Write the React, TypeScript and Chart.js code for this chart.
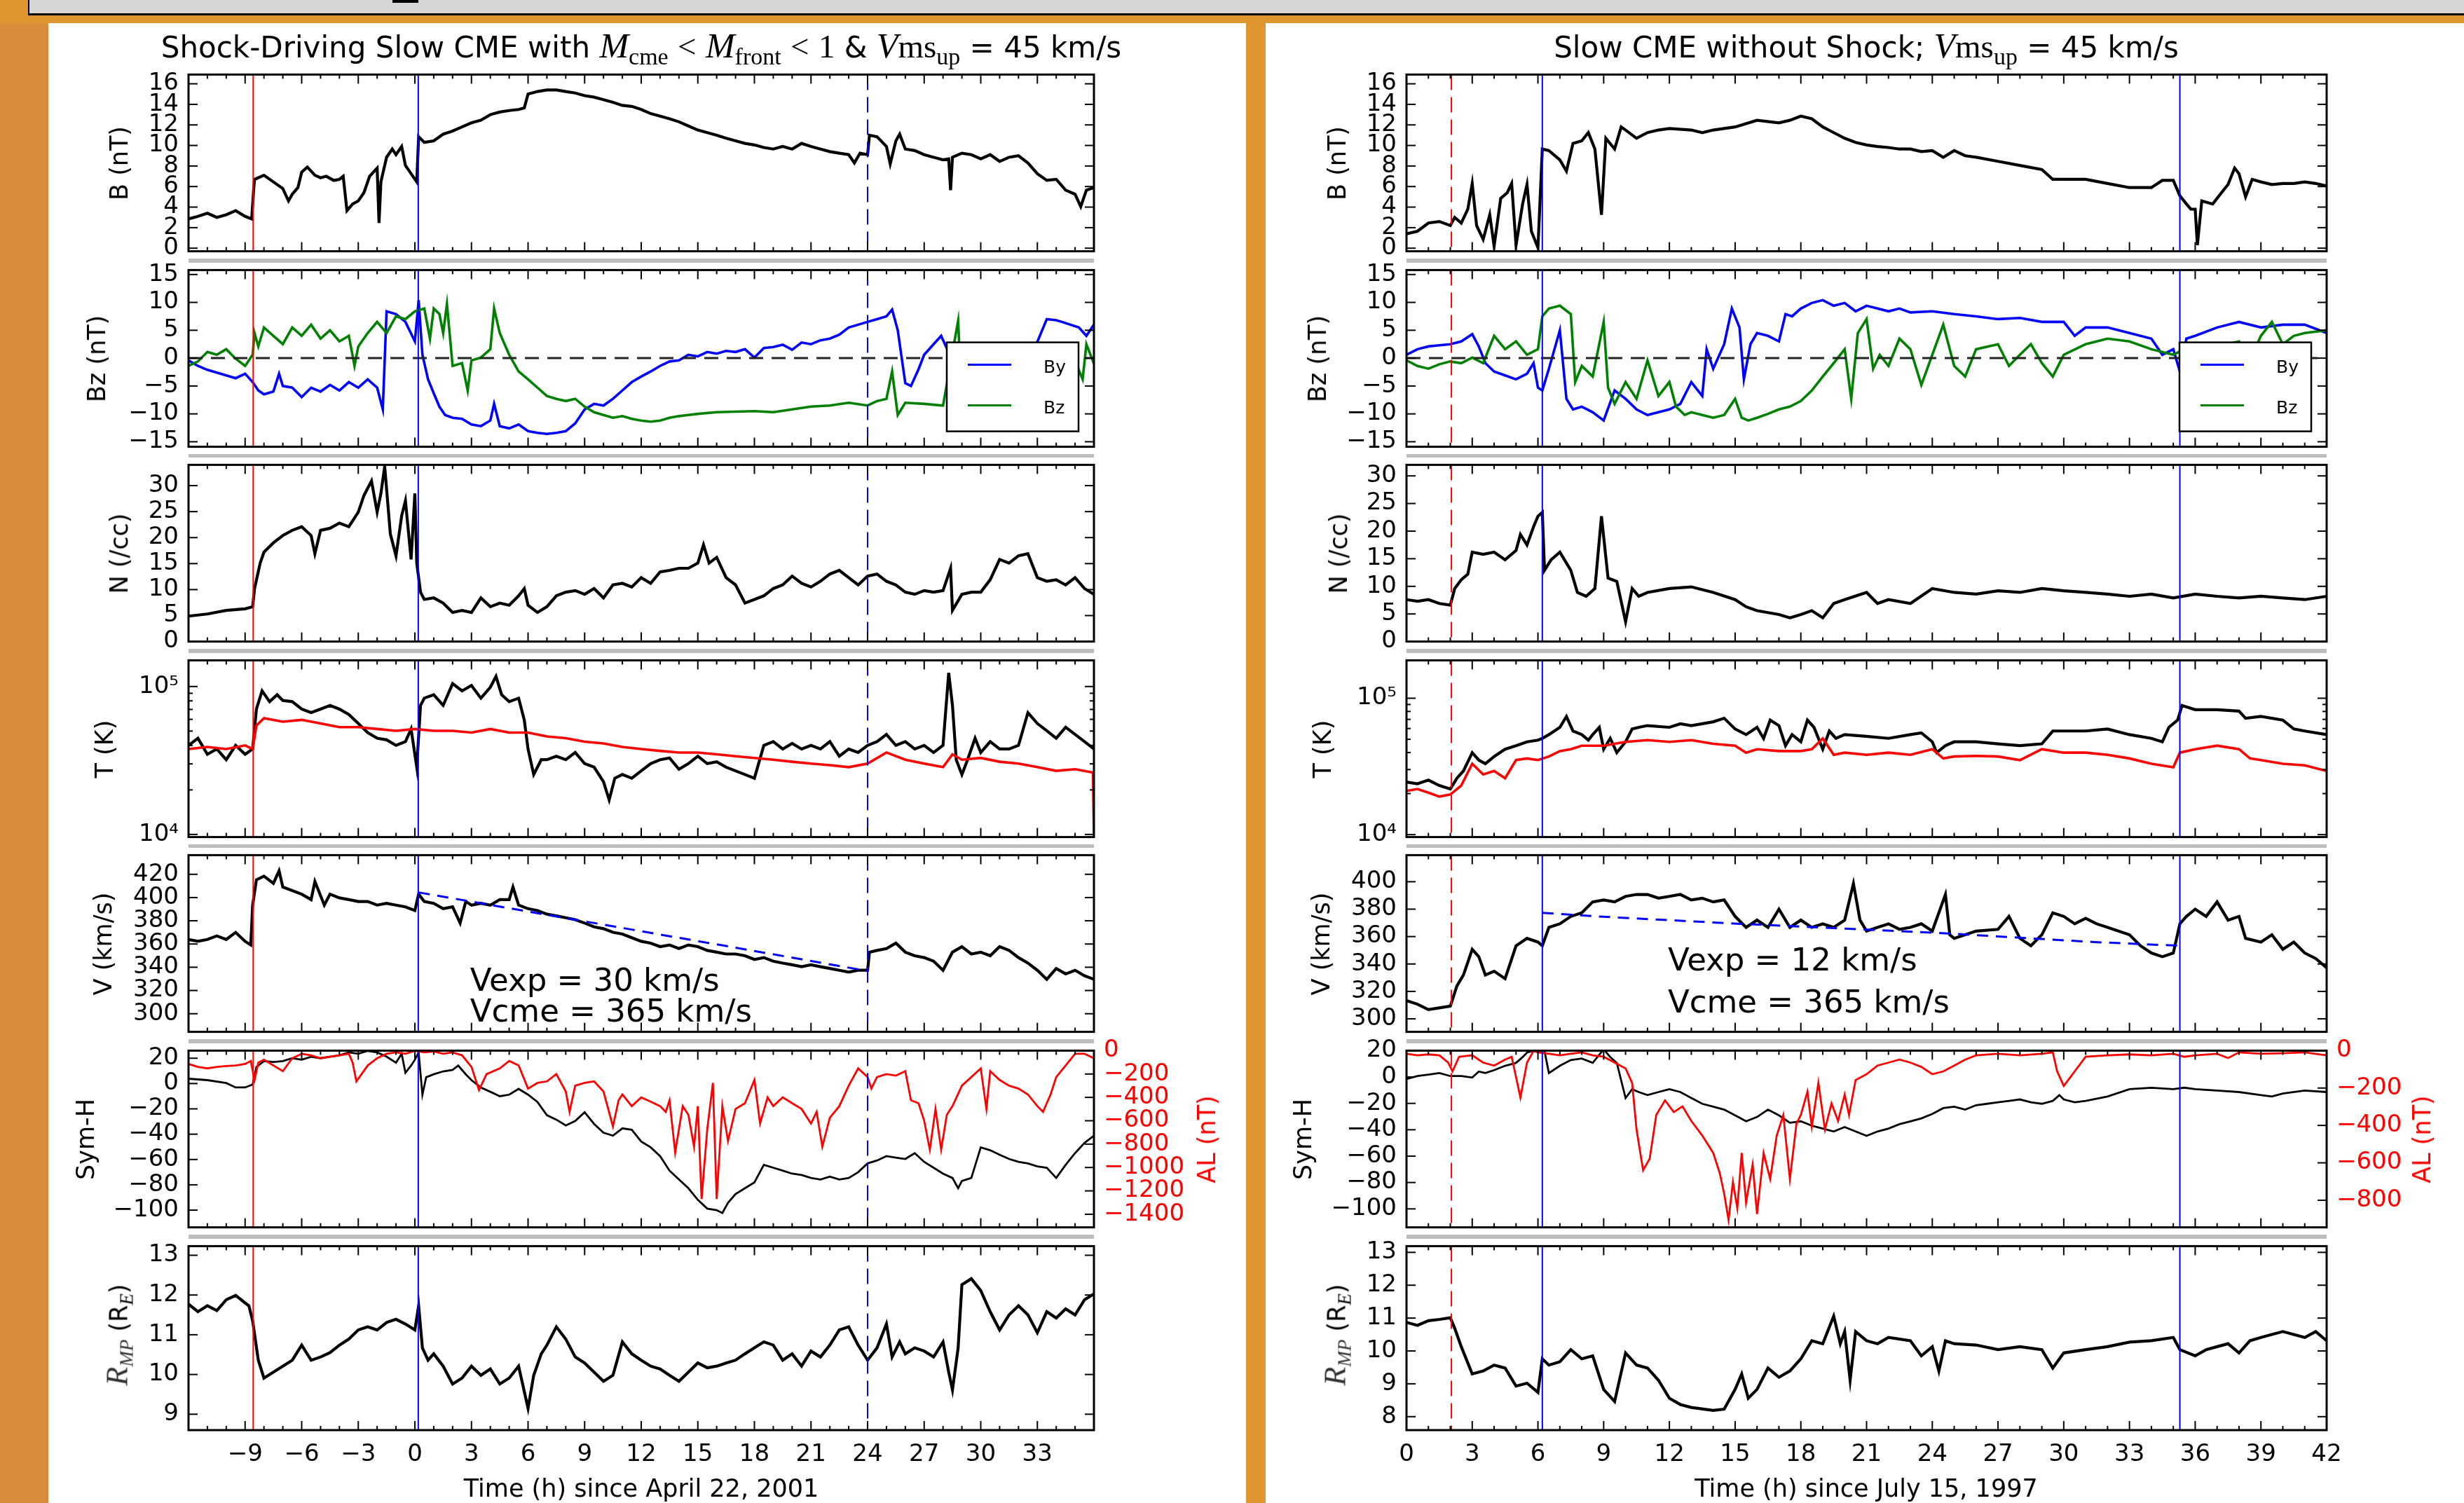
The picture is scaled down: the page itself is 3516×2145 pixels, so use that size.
import React, { useEffect, useRef } from "react";
import { Chart, registerables } from "chart.js";

Chart.register(...registerables);

type Pt = [number, number];

// ================= LEFT FIGURE: hours since April 22, 2001 =================
const L_X_RANGE: [number, number] = [-12, 36];
const L_X_TICKS = [-9, -6, -3, 0, 3, 6, 9, 12, 15, 18, 21, 24, 27, 30, 33];
const L_EVENT_TIMES = [-8.57, 0.18, 24.0];

const L_B: Pt[] = [[-12,2.85],[-11.5,3.1],[-11,3.4],[-10.5,3.0],[-10,3.25],[-9.5,3.65],[-9,3.1],[-8.65,2.85],[-8.55,5.65],[-8.5,6.7],[-8,7.1],[-7.5,6.45],[-7,5.8],[-6.7,4.6],[-6.5,5.25],[-6.2,5.9],[-6,7.4],[-5.7,7.9],[-5.3,7.1],[-5,6.85],[-4.7,7.0],[-4.3,6.6],[-4,6.7],[-3.8,7.0],[-3.6,3.65],[-3.3,4.3],[-3,4.6],[-2.7,5.4],[-2.4,7.0],[-2,7.8],[-1.9,2.45],[-1.8,6.45],[-1.5,8.85],[-1.2,9.65],[-1,9.1],[-0.7,9.9],[-0.5,8.05],[-0.2,7.25],[0.1,6.45],[0.2,10.85],[0.5,10.3],[1,10.45],[1.5,11.1],[2,11.4],[2.5,11.8],[3,12.2],[3.5,12.45],[4,13.0],[4.5,13.25],[5,13.4],[5.5,13.5],[5.8,13.65],[6,15.0],[6.5,15.25],[7,15.4],[7.5,15.4],[8,15.25],[8.5,15.1],[9,14.85],[9.5,14.7],[10,14.45],[10.5,14.2],[11,13.9],[11.5,13.8],[12,13.5],[12.5,13.1],[13,12.85],[13.5,12.6],[14,12.3],[14.5,11.9],[15,11.5],[15.5,11.25],[16,11.0],[16.5,10.7],[17,10.45],[17.5,10.2],[18,10.05],[18.5,9.8],[19,9.65],[19.5,9.9],[20,9.65],[20.5,10.2],[21,9.9],[21.5,9.65],[22,9.4],[22.5,9.25],[23,9.1],[23.3,8.3],[23.6,9.25],[24,9.1],[24.1,11.0],[24.5,10.85],[25,9.9],[25.2,8.2],[25.5,10.45],[25.7,11.1],[26,9.65],[26.5,9.5],[27,9.1],[27.5,8.85],[28,8.6],[28.3,8.7],[28.4,5.65],[28.5,8.85],[29,9.25],[29.5,9.1],[30,8.7],[30.5,9.1],[31,8.45],[31.5,8.85],[32,9.0],[32.5,8.3],[33,7.25],[33.5,6.6],[34,6.7],[34.5,5.65],[35,5.25],[35.3,4.05],[35.6,5.65],[36,5.9]];

const L_BY: Pt[] = [[-12,-0.4],[-11.5,-1.4],[-11,-2.1],[-10.5,-2.6],[-10,-3.1],[-9.5,-3.6],[-9,-2.8],[-8.6,-4.3],[-8.3,-5.8],[-8,-6.5],[-7.5,-6.0],[-7.2,-2.8],[-7,-5.0],[-6.5,-5.3],[-6,-7.0],[-5.5,-5.3],[-5,-6.0],[-4.5,-4.8],[-4,-5.8],[-3.5,-4.3],[-3,-5.3],[-2.5,-3.8],[-2,-5.3],[-1.7,-9.2],[-1.5,8.4],[-1,7.9],[-0.5,6.5],[0,3.0],[0.2,10.4],[0.4,0.6],[0.7,-3.8],[1,-6.3],[1.3,-8.7],[1.6,-10.2],[2,-10.7],[2.5,-10.9],[3,-11.9],[3.5,-12.2],[4,-11.2],[4.2,-8.2],[4.5,-12.2],[5,-12.6],[5.5,-11.9],[6,-13.1],[6.5,-13.4],[7,-13.6],[7.5,-13.4],[8,-13.1],[8.5,-11.7],[9,-9.2],[9.5,-8.2],[10,-8.5],[10.5,-7.3],[11,-5.8],[11.5,-4.3],[12,-3.3],[12.5,-2.4],[13,-1.4],[13.5,-0.6],[14,-0.4],[14.5,0.6],[15,0.3],[15.5,1.1],[16,0.8],[16.5,1.3],[17,1.1],[17.5,1.6],[18,0.1],[18.5,1.8],[19,2.0],[19.5,2.4],[20,1.5],[20.5,2.8],[21,2.5],[21.5,3.2],[22,3.5],[22.5,4.2],[23,5.5],[23.5,6.0],[24,6.5],[24.5,7.0],[25,7.5],[25.3,8.7],[25.6,5.0],[26,-4.5],[26.3,-5.0],[26.7,-2.0],[27,0.6],[27.5,2.5],[27.9,4.0],[28.3,1.0],[29,0.5],[30,0.0],[31,0.2],[32,0.5],[32.8,1.3],[33.5,7.0],[34,6.8],[34.3,6.5],[35.2,5.5],[35.6,4.0],[36,6.0]];

const L_BZ: Pt[] = [[-12,-1.4],[-11.5,-0.6],[-11,1.1],[-10.5,0.6],[-10,1.6],[-9.5,-0.1],[-9,-1.4],[-8.6,0.6],[-8.5,4.5],[-8.3,2.1],[-8,5.5],[-7.5,4.0],[-7,2.5],[-6.5,5.5],[-6,4.0],[-5.5,6.0],[-5,3.5],[-4.5,5.0],[-4,3.0],[-3.5,4.0],[-3.2,-1.4],[-3,2.1],[-2.5,4.5],[-2,6.5],[-1.5,4.5],[-1,7.5],[-0.5,7.0],[0,8.4],[0.5,8.9],[0.8,3.5],[1,8.9],[1.3,7.9],[1.5,4.5],[1.7,9.7],[2,-1.4],[2.5,-0.9],[2.8,-5.8],[3,-0.4],[3.5,0.1],[4,1.6],[4.2,8.9],[4.5,4.5],[5,0.6],[5.5,-2.4],[6,-3.8],[6.5,-5.3],[7,-6.8],[7.5,-7.3],[8,-7.7],[8.5,-7.3],[9,-8.7],[9.5,-9.7],[10,-10.2],[10.5,-10.7],[11,-10.4],[11.5,-10.9],[12,-11.2],[12.5,-11.4],[13,-11.2],[13.5,-10.7],[14,-10.4],[14.5,-10.2],[15,-10.0],[16,-9.7],[17,-9.6],[18,-9.5],[19,-9.7],[20,-9.2],[21,-8.7],[22,-8.5],[23,-8.0],[24,-8.5],[24.5,-7.7],[25,-7.3],[25.3,-2.4],[25.6,-10.2],[26,-8.0],[27,-8.2],[28,-8.5],[28.8,6.7],[29,-8.0],[30,-7.5],[31,-7.0],[32,-6.0],[33,-3.0],[34,-1.0],[35,-0.5],[35.4,-3.8],[35.6,2.5],[36,-1.0]];

const L_N: Pt[] = [[-12,4.9],[-11,5.3],[-10,6.0],[-9,6.3],[-8.6,6.7],[-8.5,10.2],[-8.2,15.1],[-8,17.2],[-7.5,19.0],[-7,20.4],[-6.5,21.4],[-6,22.1],[-5.5,20.4],[-5.3,16.9],[-5,21.4],[-4.5,21.8],[-4,22.8],[-3.5,22.1],[-3,24.9],[-2.7,28.1],[-2.3,30.9],[-2,24.9],[-1.8,28.5],[-1.6,33.7],[-1.3,20.7],[-1,16.5],[-0.7,24.2],[-0.5,27.1],[-0.2,15.8],[0,28.5],[0.1,15.1],[0.3,9.5],[0.5,8.1],[1,8.4],[1.5,7.4],[2,5.6],[2.5,6.0],[3,5.6],[3.5,8.4],[4,6.7],[4.5,7.4],[5,7.0],[5.5,8.8],[5.8,10.2],[6,7.0],[6.5,5.6],[7,6.7],[7.5,8.8],[8,9.5],[8.5,9.8],[9,9.1],[9.5,10.2],[10,8.4],[10.5,10.9],[11,11.2],[11.5,10.5],[12,12.3],[12.5,11.2],[13,13.4],[13.5,13.7],[14,14.1],[14.5,14.1],[15,15.1],[15.3,18.6],[15.6,15.1],[16,16.2],[16.5,12.3],[17,10.9],[17.5,7.4],[18,8.1],[18.5,8.8],[19,10.2],[19.5,10.9],[20,12.6],[20.5,11.2],[21,10.5],[21.5,11.6],[22,13.0],[22.5,13.7],[23,12.3],[23.5,10.9],[24,12.6],[24.5,13.0],[25,11.6],[25.5,10.9],[26,9.5],[26.5,9.1],[27,9.8],[27.5,9.5],[28,9.8],[28.4,14.1],[28.5,6.0],[29,9.1],[29.5,9.5],[30,9.5],[30.5,11.9],[31,15.8],[31.5,15.1],[32,16.5],[32.5,16.9],[33,12.3],[33.5,11.6],[34,11.9],[34.5,10.9],[35,12.3],[35.5,10.2],[36,9.1]];

const L_T: Pt[] = [[-12,40000],[-11.5,44700],[-11,34800],[-10.5,37800],[-10,32000],[-9.5,40000],[-9,34800],[-8.6,37800],[-8.4,70400],[-8.1,93400],[-7.7,79000],[-7.3,88000],[-7,80500],[-6.5,79000],[-6,70400],[-5.5,66600],[-5,70400],[-4.5,74500],[-4,70400],[-3.5,64700],[-3,56200],[-2.5,48800],[-2,44700],[-1.5,43600],[-1,40000],[-0.5,42400],[-0.2,51600],[0.1,28500],[0.3,74500],[0.5,83400],[1,88000],[1.5,74500],[2,104600],[2.5,93400],[3,101700],[3.5,83400],[4,98900],[4.3,117100],[4.6,88000],[5,79000],[5.5,83400],[5.8,59500],[6,37800],[6.3,25400],[6.7,32000],[7,32000],[7.5,33800],[8,32000],[8.5,35800],[9,30100],[9.5,28500],[10,22700],[10.3,17100],[10.6,24000],[11,25400],[11.5,24000],[12,26900],[12.5,30100],[13,32000],[13.5,32900],[14,27600],[14.5,30100],[15,33800],[15.5,30100],[16,31000],[16.5,28500],[17,26900],[17.5,25400],[18,24000],[18.5,40000],[19,42400],[19.5,37800],[20,41200],[20.5,37800],[21,40000],[21.5,37800],[22,42400],[22.5,33800],[23,37800],[23.5,35800],[24,40000],[24.5,42400],[25,47400],[25.5,40000],[26,42400],[26.5,37800],[27,40000],[27.5,35800],[28,40000],[28.3,123700],[28.5,74500],[28.7,32000],[29,25400],[29.3,32000],[29.7,44700],[30,35800],[30.5,42400],[31,37800],[31.5,37800],[32,40000],[32.5,66600],[33,56200],[33.5,50200],[34,44700],[34.5,53100],[35,47400],[35.5,42400],[36,37800]];

const L_TEXP: Pt[] = [[-12,37800],[-11,39000],[-10,37800],[-9,40000],[-8.6,37800],[-8.4,54500],[-8,61100],[-7,57800],[-6,59500],[-5,56200],[-4,53100],[-3,53100],[-2,51600],[-1,50200],[0,51600],[1,50200],[2,50200],[3,48800],[4,51600],[5,48800],[6,48800],[7,46000],[8,44700],[9,42400],[10,41200],[11,39000],[12,37800],[13,36700],[14,35800],[15,35800],[16,34800],[17,33800],[18,32900],[19,32000],[20,31000],[21,30100],[22,29400],[23,28500],[24,30100],[25,35800],[26,32000],[27,30100],[28,28500],[28.5,34800],[29,32000],[30,32900],[31,31000],[32,30100],[33,28500],[34,26900],[35,27600],[35.95,26200],[36,9800]];

const L_V: Pt[] = [[-12,363.9],[-11.5,362.3],[-11,363.9],[-10.5,367],[-10,363.9],[-9.5,370],[-9,362.3],[-8.7,359.2],[-8.6,393.5],[-8.4,415.3],[-8,418.4],[-7.5,412.2],[-7.2,423],[-7,409],[-6.5,406],[-6,402.9],[-5.5,398.2],[-5.3,413.8],[-4.8,393.5],[-4.5,402.9],[-4,399.7],[-3.5,398.2],[-3,396.6],[-2.5,396.6],[-2,393.5],[-1.5,395],[-1,393.5],[-0.5,392],[0,388.8],[0.2,402.9],[0.5,396.6],[1,395],[1.5,390.4],[2,392],[2.4,378],[2.7,396.6],[3,393.5],[3.5,395],[4,393.5],[4.5,398.2],[5,398.2],[5.2,409],[5.5,393.5],[6,390.4],[6.5,388.8],[7,385.7],[7.5,384.2],[8,382.6],[8.5,381],[9,378],[9.5,374.8],[10,373.2],[10.5,370.1],[11,368.6],[11.5,365.4],[12,362.3],[12.5,360.8],[13,357.7],[13.5,359.2],[14,356.1],[14.5,359.2],[15,357.7],[15.5,354.5],[16,353],[16.5,351.4],[17,351.4],[17.5,349.9],[18,346.7],[18.5,348.3],[19,345.2],[19.5,343.6],[20,342.1],[20.5,340.5],[21,342.1],[21.5,340.5],[22,339],[22.5,337.4],[23,335.8],[23.5,337.4],[24,337.4],[24.1,353],[24.5,354.5],[25,356.1],[25.5,360.8],[26,353],[26.5,349.9],[27,348.3],[27.5,345.2],[28,337.4],[28.5,353],[29,357.7],[29.5,351.4],[30,353],[30.5,349.9],[31,357.7],[31.5,354.5],[32,348.3],[32.5,343.6],[33,337.4],[33.5,329.6],[34,339],[34.5,334.3],[35,337.4],[35.5,332.7],[36,329.6]];

const L_VFIT: Pt[] = [[0.2,404.4],[6,388],[12,371],[18,354],[24,336.8]];

const L_SYMH: Pt[] = [[-12,3.8],[-11,2.7],[-10,0.4],[-9.5,-3.1],[-9,-3.1],[-8.6,-0.8],[-8.4,13.1],[-8,17.7],[-7.5,17],[-7,17.7],[-6.5,20],[-6,18.8],[-5.5,21.2],[-5,20],[-4.5,21.2],[-4,22.3],[-3.5,24.6],[-3,23.5],[-2.5,25.8],[-2,24.6],[-1.5,21.2],[-1,16.5],[-0.7,23.5],[-0.5,8.5],[-0.2,14.2],[0,18.8],[0.2,24.6],[0.4,-8.8],[0.6,5],[1,7.3],[1.5,9.6],[2,10.8],[2.3,14.2],[2.7,7.3],[3,2.7],[3.5,-3.1],[4,-6.5],[4.5,-10],[5,-8.8],[5.5,-4.2],[6,-8.8],[6.5,-14.6],[7,-25],[7.5,-28.5],[8,-33.1],[8.5,-29.6],[9,-22.7],[9.5,-31.9],[10,-38.8],[10.5,-41.2],[11,-35.4],[11.5,-36.5],[12,-45.8],[12.5,-50.4],[13,-57.3],[13.5,-68.8],[14,-75.8],[14.5,-82.7],[15,-91.9],[15.5,-98.8],[16,-100],[16.3,-102.3],[16.6,-94.2],[17,-87.3],[17.5,-82.7],[18,-78.1],[18.5,-64.2],[19,-66.5],[19.5,-68.8],[20,-71.2],[20.5,-72.3],[21,-74.6],[21.5,-75.8],[22,-73.5],[22.5,-75.8],[23,-74.6],[23.5,-70],[24,-63.1],[24.5,-60.8],[25,-57.3],[25.5,-58.5],[26,-59.6],[26.5,-55],[27,-61.9],[27.5,-66.5],[28,-71.2],[28.5,-74.6],[28.8,-82.7],[29,-76.9],[29.5,-74.6],[30,-50.4],[30.5,-52.7],[31,-56.2],[31.5,-59.6],[32,-61.9],[32.5,-63.1],[33,-65.4],[33.5,-66.5],[34,-74.6],[34.5,-64.2],[35,-55],[35.5,-46.9],[36,-41.2]];

const L_AL: Pt[] = [[-12,-114],[-11.5,-139],[-11,-152],[-10.5,-139],[-10,-132],[-9.5,-127],[-9,-114],[-8.7,-89],[-8.5,-251],[-8.3,-102],[-8,-77],[-7.5,-127],[-7,-176],[-6.5,-65],[-6,-27],[-5.5,-40],[-5,-65],[-4.5,-52],[-4,-40],[-3.5,-27],[-3.3,-102],[-3.1,-263],[-2.5,-127],[-2,-65],[-1.5,-27],[-1,-15],[-0.5,-27],[0,-2],[0.5,-15],[1,-7],[1.5,-27],[2,-15],[2.5,-40],[3,-139],[3.4,-338],[3.8,-201],[4.5,-152],[5,-89],[5.5,-127],[6,-325],[6.5,-276],[7,-263],[7.5,-201],[8,-350],[8.2,-524],[8.5,-300],[9,-276],[9.5,-263],[10,-350],[10.5,-648],[10.8,-425],[11,-375],[11.5,-475],[12,-400],[12.5,-437],[13,-475],[13.3,-524],[13.5,-425],[13.8,-872],[14.2,-475],[14.5,-549],[14.8,-822],[15,-475],[15.2,-1270],[15.5,-673],[15.8,-276],[16,-1270],[16.3,-475],[16.6,-773],[17,-499],[17.5,-450],[18,-251],[18.3,-624],[18.7,-400],[19,-475],[19.5,-400],[20,-450],[20.5,-499],[21,-624],[21.3,-524],[21.6,-822],[22,-574],[22.5,-475],[23,-300],[23.5,-152],[24,-226],[24.2,-325],[24.5,-226],[25,-201],[25.5,-214],[26,-176],[26.3,-425],[26.7,-450],[27,-599],[27.3,-847],[27.6,-499],[27.9,-847],[28.2,-549],[28.5,-475],[29,-300],[29.5,-226],[30,-152],[30.3,-499],[30.5,-176],[31,-251],[31.5,-300],[32,-325],[32.5,-375],[33,-475],[33.3,-524],[33.7,-375],[34,-226],[34.5,-127],[35,-27],[35.5,-27],[36,-65]];

const L_RMP: Pt[] = [[-12,11.77],[-11.5,11.58],[-11,11.73],[-10.5,11.61],[-10,11.88],[-9.5,11.99],[-9,11.8],[-8.8,11.73],[-8.6,11.35],[-8.3,10.36],[-8,9.91],[-7.5,10.06],[-7,10.21],[-6.5,10.36],[-6,10.74],[-5.5,10.36],[-5,10.44],[-4.5,10.55],[-4,10.74],[-3.5,10.89],[-3,11.12],[-2.5,11.2],[-2,11.12],[-1.5,11.31],[-1,11.39],[-0.5,11.27],[0,11.12],[0.2,11.73],[0.4,10.67],[0.7,10.36],[1,10.52],[1.5,10.21],[2,9.76],[2.5,9.91],[3,10.21],[3.5,9.98],[4,10.14],[4.5,9.76],[5,9.91],[5.5,10.21],[6,9.15],[6.3,9.98],[6.7,10.52],[7,10.74],[7.5,11.2],[8,10.89],[8.5,10.44],[9,10.29],[9.5,10.06],[10,9.83],[10.5,9.98],[11,10.82],[11.5,10.52],[12,10.36],[12.5,10.21],[13,10.14],[13.5,9.98],[14,9.83],[14.5,10.06],[15,10.29],[15.5,10.17],[16,10.21],[16.5,10.29],[17,10.36],[17.5,10.52],[18,10.67],[18.5,10.82],[19,10.74],[19.5,10.36],[20,10.52],[20.5,10.21],[21,10.59],[21.5,10.44],[22,10.74],[22.5,11.12],[23,11.2],[23.5,10.74],[24,10.36],[24.5,10.67],[25,11.27],[25.3,10.44],[25.7,10.82],[26,10.52],[26.5,10.67],[27,10.59],[27.5,10.44],[28,10.82],[28.3,10.06],[28.5,9.61],[28.8,10.67],[29,12.26],[29.5,12.41],[30,12.11],[30.5,11.58],[31,11.12],[31.5,11.5],[32,11.73],[32.5,11.5],[33,11.05],[33.5,11.58],[34,11.42],[34.5,11.65],[35,11.5],[35.5,11.88],[36,12.03]];

// ================= RIGHT FIGURE: hours since July 15, 1997 =================
const R_X_RANGE: [number, number] = [0, 42];
const R_X_TICKS = [0, 3, 6, 9, 12, 15, 18, 21, 24, 27, 30, 33, 36, 39, 42];
const R_EVENT_TIMES = [2.05, 6.2, 35.3];

const R_B: Pt[] = [[0,1.4],[0.5,1.65],[1,2.45],[1.5,2.6],[2,2.2],[2.2,3.0],[2.5,2.45],[2.8,3.8],[3,6.3],[3.2,2.2],[3.5,0.85],[3.8,3.25],[4,0.2],[4.3,4.85],[4.6,5.4],[4.8,6.3],[5,0.3],[5.3,4.3],[5.5,6.2],[5.7,1.65],[6,0.05],[6.2,9.65],[6.5,9.5],[7,8.6],[7.3,7.5],[7.6,10.2],[8,10.45],[8.3,11.25],[8.6,9.65],[8.9,3.25],[9.1,10.7],[9.5,9.65],[9.8,11.8],[10,11.5],[10.5,10.7],[11,11.25],[11.5,11.5],[12,11.65],[13,11.5],[13.5,11.25],[14,11.5],[15,11.8],[16,12.45],[17,12.2],[17.5,12.45],[18,12.85],[18.5,12.6],[19,11.8],[19.5,11.25],[20,10.7],[20.5,10.3],[21,10.05],[21.5,9.9],[22,9.8],[22.5,9.65],[23,9.65],[23.5,9.4],[24,9.5],[24.5,8.85],[25,9.5],[25.5,9.0],[26,8.85],[27,8.45],[28,8.05],[29,7.65],[29.5,6.7],[30,6.7],[31,6.7],[32,6.3],[33,5.9],[34,5.9],[34.5,6.6],[35,6.6],[35.3,5.1],[35.6,4.3],[35.8,3.8],[36,3.8],[36.1,0.3],[36.3,4.6],[36.8,4.3],[37.2,5.4],[37.5,6.2],[37.8,7.8],[38,7.25],[38.3,5.0],[38.6,6.7],[39,6.45],[39.5,6.2],[40,6.3],[40.5,6.3],[41,6.45],[41.5,6.3],[42,6.05]];

const R_BY: Pt[] = [[0,0.6],[0.5,1.6],[1,2.1],[1.5,2.3],[2,2.5],[2.5,3.0],[3,4.3],[3.3,2.1],[3.6,-0.9],[4,-2.4],[4.5,-3.1],[5,-3.8],[5.5,-2.8],[5.8,-0.9],[6,-5.3],[6.2,-5.8],[6.5,-1.9],[7,5.0],[7.3,-7.3],[7.6,-9.2],[8,-8.7],[8.5,-9.7],[9,-11.2],[9.5,-5.8],[10,-7.3],[10.5,-9.2],[11,-10.2],[11.5,-9.7],[12,-9.2],[12.5,-8.2],[13,-4.3],[13.5,-6.8],[13.7,1.6],[14,-1.9],[14.5,2.5],[14.85,8.9],[15.2,5.5],[15.4,-3.8],[15.7,2.5],[16,4.5],[16.5,4.0],[17,3.0],[17.3,7.9],[17.6,7.5],[18,8.9],[18.5,9.9],[19,10.4],[19.5,9.4],[20,9.9],[20.5,8.4],[21,9.4],[21.5,8.9],[22,8.4],[22.5,8.9],[23,8.2],[24,8.4],[25,7.9],[26,7.5],[27,7.0],[28,7.2],[29,6.5],[30,6.5],[30.5,4.0],[31,5.5],[32,5.5],[33,4.5],[34,3.5],[34.5,0.6],[35,1.6],[35.3,-2.4],[35.6,3.5],[36,4.0],[37,5.5],[38,6.5],[39,5.5],[40,6.0],[41,6.0],[42,4.5]];

const R_BZ: Pt[] = [[0,-0.4],[0.5,-1.4],[1,-1.9],[1.5,-1.1],[2,-0.6],[2.5,-0.9],[3,0.1],[3.5,-0.9],[4,4.0],[4.5,1.6],[5,3.0],[5.5,0.6],[6,1.6],[6.2,7.5],[6.5,8.9],[7,9.4],[7.5,7.9],[7.7,-4.3],[8,-1.4],[8.5,-3.3],[9,6.5],[9.2,-5.3],[9.5,-8.2],[10,-4.3],[10.5,-7.3],[11,-0.4],[11.5,-6.8],[12,-4.3],[12.3,-8.7],[12.7,-10.2],[13,-9.7],[13.5,-10.2],[14,-10.7],[14.5,-10.2],[15,-7.3],[15.3,-10.7],[15.6,-11.2],[16,-10.7],[16.5,-10.0],[17,-9.2],[17.5,-8.7],[18,-7.7],[18.5,-5.8],[19,-3.3],[19.5,-0.9],[20,1.6],[20.3,-7.3],[20.6,4.5],[21,7.0],[21.3,-1.9],[21.6,0.6],[22,-1.4],[22.5,3.5],[23,1.6],[23.5,-4.8],[24,0.6],[24.5,6.0],[25,-1.4],[25.5,-3.3],[26,1.6],[27,2.5],[27.5,-1.4],[28,0.6],[28.5,2.5],[29,-0.9],[29.5,-3.3],[30,0.6],[31,2.5],[32,3.5],[33,3.0],[34,1.6],[35,0.6],[35.5,1.6],[36,2.5],[37,2.1],[38,3.0],[38.5,-0.4],[39,4.0],[39.5,6.5],[40,2.5],[40.5,4.0],[41,4.5],[42,5.0]];

const R_N: Pt[] = [[0,7.6],[0.5,7.3],[1,7.6],[1.5,6.9],[2,6.6],[2.2,9.6],[2.5,11.2],[2.8,12.2],[3,16.2],[3.5,15.8],[4,16.2],[4.5,14.8],[5,16.5],[5.2,19.4],[5.5,17.5],[5.8,20.8],[6,22.7],[6.2,23.4],[6.3,12.9],[6.6,14.8],[7,16.2],[7.5,12.9],[7.8,8.9],[8.2,8.2],[8.6,9.6],[8.9,22.7],[9.2,11.5],[9.6,10.9],[10,3.6],[10.3,9.6],[10.6,8.2],[11,8.9],[12,9.6],[13,9.9],[14,8.9],[15,7.6],[15.5,6.3],[16,5.6],[17,4.9],[17.5,4.3],[18,4.9],[18.5,5.6],[19,4.3],[19.5,6.9],[20,7.6],[21,8.9],[21.5,6.9],[22,7.6],[23,6.9],[24,9.6],[25,8.9],[26,8.6],[27,9.2],[28,8.9],[29,9.6],[30,9.2],[31,8.9],[32,8.6],[33,8.2],[34,8.6],[35,7.9],[36,8.6],[37,8.2],[38,7.9],[39,8.2],[40,7.9],[41,7.6],[42,8.2]];

const R_T: Pt[] = [[0,24300],[0.5,23600],[1,25100],[1.5,22900],[2,21600],[2.3,25900],[2.6,29300],[3,39900],[3.3,35200],[3.6,33100],[4,37400],[4.5,42300],[5,44900],[5.5,47900],[6,49300],[6.2,50800],[6.5,54100],[7,61200],[7.3,73600],[7.6,57500],[8,54100],[8.3,49300],[8.5,54100],[8.8,61200],[9,42300],[9.3,50800],[9.6,39900],[10,47900],[10.3,59500],[10.6,61200],[11,63000],[12,61200],[12.5,65000],[13,63000],[13.5,65000],[14,67200],[14.5,71300],[15,59500],[15.5,54100],[16,61200],[16.3,50800],[16.6,69200],[17,63000],[17.3,44900],[17.6,54100],[18,47900],[18.3,69200],[18.6,61200],[19,42300],[19.3,57500],[19.6,50800],[20,54100],[21,52500],[22,50800],[23,54100],[23.5,55700],[24,47900],[24.2,39900],[24.6,44900],[25,47900],[26,47900],[27,46300],[28,44900],[29,46300],[29.5,57500],[30,57500],[31,57500],[32,59500],[33,54100],[34,50800],[34.5,47900],[34.8,61200],[35.2,69200],[35.4,88500],[36,82400],[37,82400],[38,80500],[38.3,71300],[39,73600],[40,69200],[40.5,59500],[41,57500],[42,54100]];

const R_TEXP: Pt[] = [[0,20900],[0.5,21600],[1,20300],[1.5,19000],[2,19700],[2.5,22900],[3,33100],[3.5,27600],[4,29300],[4.5,25900],[5,35200],[5.5,36200],[6,35200],[6.5,37400],[7,41000],[7.5,42300],[8,44900],[9,44900],[10,47900],[11,49300],[12,47900],[13,49300],[14,46300],[15,44900],[15.5,39900],[16,42300],[17,41000],[18,41000],[18.5,42300],[19,50800],[19.5,38500],[20,39900],[21,38500],[22,39900],[23,38500],[24,42300],[24.5,36200],[25,37400],[26,37800],[27,37400],[28,35200],[29,42300],[30,39900],[31,39900],[32,38500],[33,36200],[34,33100],[35,31200],[35.3,39900],[36,42300],[37,44900],[38,42300],[38.5,36200],[39,35200],[40,33100],[41,32200],[42,29300]];

const R_V: Pt[] = [[0,313.3],[0.5,310.7],[1,306.7],[1.5,308],[2,309.3],[2.3,324],[2.6,332],[3,350.7],[3.3,345.3],[3.6,332],[4,334.7],[4.5,329.3],[5,353.3],[5.5,358.7],[6,356],[6.2,353.3],[6.5,366.7],[7,369.3],[7.5,374.7],[8,377.3],[8.5,385.3],[9,386.7],[9.5,385.3],[10,389.3],[10.5,390.7],[11,390.7],[11.5,388],[12,389.3],[12.5,390.7],[13,386.7],[13.5,388],[14,385.3],[14.5,386.7],[15,374.7],[15.5,366.7],[16,372],[16.5,366.7],[17,380],[17.5,366.7],[18,372],[18.5,366.7],[19,369.3],[19.5,366.7],[20,372],[20.4,398.7],[20.7,372],[21,364],[21.5,366.7],[22,369.3],[22.5,365.3],[23,366.7],[23.5,369.3],[24,364],[24.6,390.7],[24.8,361.3],[25,358.7],[25.5,361.3],[26,364],[27,365.3],[27.5,374.7],[28,358.7],[28.5,353.3],[29,361.3],[29.5,377.3],[30,374.7],[30.5,369.3],[31,373.3],[31.5,369.3],[32,366.7],[33,361.3],[33.5,353.3],[34,348],[34.5,345.3],[35,348],[35.3,369.3],[35.6,374.7],[36,380],[36.5,374.7],[37,385.3],[37.5,372],[38,374.7],[38.3,358.7],[39,356],[39.5,361.3],[40,350.7],[40.5,356],[41,348],[41.5,344],[42,337.3]];

const R_VFIT: Pt[] = [[6.2,377.3],[8.7,374.7],[15.2,369.3],[24.2,362.7],[31.4,356],[35.3,353.3]];

const R_SYMH: Pt[] = [[0,-1.5],[0.5,0.7],[1,1.8],[1.5,3.0],[2,0.7],[2.5,0.7],[3,-0.4],[3.3,4.1],[3.6,3.0],[4,5.2],[4.5,8.5],[5,10.7],[5.3,15.1],[5.5,18.5],[6,21],[6.3,19.6],[6.5,3.0],[7,8.5],[7.5,12.9],[8,14],[8.5,10.7],[9,21],[9.3,15.1],[9.6,10.7],[10,-15.9],[10.3,-9.2],[10.6,-11.4],[11,-13.7],[11.5,-11.4],[12,-9.2],[12.5,-11.4],[13,-15.9],[13.5,-20.3],[14,-22.5],[14.5,-24.7],[15,-29.1],[15.5,-33.6],[16,-30.3],[16.5,-24.7],[17,-29.1],[17.5,-34.7],[18,-33.6],[18.5,-36.9],[19,-39.1],[19.5,-41.3],[20,-38],[20.5,-41.3],[21,-44.6],[21.5,-41.3],[22,-39.1],[22.5,-35.8],[23,-33.6],[23.5,-31.4],[24,-28],[24.5,-23.6],[25,-22.5],[25.5,-24.7],[26,-21.4],[26.5,-20.3],[27,-19.2],[27.5,-18.1],[28,-17],[28.5,-19.2],[29,-20.3],[29.5,-18.1],[29.8,-13.7],[30,-17],[30.5,-19.2],[31,-18.1],[32,-14.8],[33,-9.2],[34,-8.1],[35,-9.2],[35.5,-8.1],[36,-9.2],[37,-10.3],[38,-11.4],[39,-13.7],[39.5,-14.8],[40,-12.5],[41,-10.3],[42,-11.4]];

const R_AL: Pt[] = [[0,-17],[0.5,-25],[1,-20],[1.5,-25],[1.9,-64],[2.1,-111],[2.4,-33],[3,-25],[3.5,-64],[4,-80],[4.5,-48],[4.8,-33],[5,-142],[5.2,-251],[5.5,-64],[5.8,-2],[6,-9],[6.5,-17],[7,-25],[7.5,-17],[8,-9],[8.5,-25],[9,-33],[9.5,-64],[10,-95],[10.3,-173],[10.5,-422],[10.8,-640],[11.1,-578],[11.4,-344],[11.8,-266],[12.2,-329],[12.6,-298],[13,-376],[13.5,-454],[14,-547],[14.3,-656],[14.5,-765],[14.7,-905],[14.9,-703],[15.1,-843],[15.3,-547],[15.5,-812],[15.8,-609],[16,-874],[16.3,-547],[16.6,-687],[16.9,-454],[17.2,-344],[17.5,-687],[17.8,-391],[18,-344],[18.3,-220],[18.5,-407],[18.8,-173],[19.1,-422],[19.4,-282],[19.7,-376],[20,-235],[20.2,-344],[20.5,-157],[21,-126],[21.5,-80],[22,-64],[22.5,-48],[23,-64],[23.5,-87],[24,-126],[24.5,-111],[25,-80],[25.5,-48],[26,-25],[27,-17],[28,-25],[29,-17],[29.5,-9],[29.7,-111],[30,-189],[30.3,-142],[30.6,-95],[31,-33],[32,-25],[33,-20],[34,-25],[35,-17],[35.5,-33],[36,-25],[37,-17],[37.5,-40],[38,-9],[39,-17],[40,-14],[41,-9],[42,-25]];

const R_RMP: Pt[] = [[0,10.87],[0.5,10.78],[1,10.92],[1.5,10.96],[2,11.01],[2.2,10.69],[2.5,10.13],[3,9.3],[3.5,9.39],[4,9.57],[4.5,9.48],[5,8.93],[5.5,9.02],[6,8.74],[6.2,9.76],[6.5,9.57],[7,9.67],[7.5,10.04],[8,9.76],[8.5,9.85],[9,8.83],[9.5,8.46],[10,9.94],[10.5,9.57],[11,9.48],[11.5,9.11],[12,8.56],[12.5,8.37],[13,8.28],[14,8.19],[14.5,8.23],[15,8.83],[15.3,9.3],[15.6,8.56],[16,8.83],[16.5,9.48],[17,9.2],[17.5,9.39],[18,9.76],[18.5,10.31],[19,10.22],[19.5,11.06],[19.8,10.22],[20,10.59],[20.25,9.11],[20.5,10.59],[21,10.31],[21.5,10.22],[22,10.41],[23,10.31],[23.5,9.85],[24,10.13],[24.3,9.39],[24.6,10.31],[25,10.22],[26,10.18],[27,10.04],[28,10.13],[29,10.04],[29.5,9.48],[30,9.94],[31,10.04],[32,10.13],[33,10.27],[34,10.31],[35,10.41],[35.3,10.04],[36,9.85],[36.5,10.04],[37,10.13],[37.5,10.22],[38,9.94],[38.5,10.31],[39,10.41],[39.5,10.5],[40,10.59],[40.5,10.5],[41,10.41],[41.5,10.59],[42,10.31]];

// ================= Axis tick labels & annotations =================
const B_TICKS = [0, 2, 4, 6, 8, 10, 12, 14, 16];
const BZ_TICKS = [-15, -10, -5, 0, 5, 10, 15];
const N_TICKS = [0, 5, 10, 15, 20, 25, 30];
const T_TICKS = [1e4, 1e5];
const T_MINOR = [2e4, 3e4, 4e4, 5e4, 6e4, 7e4, 8e4, 9e4];
const V_TICKS_L = [300, 320, 340, 360, 380, 400, 420];
const V_TICKS_R = [300, 320, 340, 360, 380, 400];
const SYMH_TICKS = [-100, -80, -60, -40, -20, 0, 20];
const AL_TICKS_L = [-1400, -1200, -1000, -800, -600, -400, -200, 0];
const AL_TICKS_R = [-800, -600, -400, -200, 0];
const RMP_TICKS_L = [9, 10, 11, 12, 13];
const RMP_TICKS_R = [8, 9, 10, 11, 12, 13];
const L_V_NOTES = ["Vexp = 30 km/s", "Vcme = 365 km/s"];
const R_V_NOTES = ["Vexp = 12 km/s", "Vcme = 365 km/s"];

// ================= Layout =================
const W = 3516, H = 2145;
const TOP0 = 96, STEP = 278.6, PH = 273;
const PADL = 240, PADR = 230, PADT = 24, PADB = 24, PADB_LAST = 80;
const FONT = '"DejaVu Sans"';
const TICK_SIZE = 34;

type Note = { text: string; fx: number; fy: number };
type Series = { data: Pt[]; color: string; width: number; dash?: number[]; axis?: string; label?: string };
type AxisCfg = { min: number; max: number; ticks: number[]; log?: boolean; minor?: number[]; color?: string };
type PanelCfg = { y: AxisCfg; y2?: AxisCfg; series: Series[]; zeroLine?: boolean; legend?: string[]; notes?: Note[] };
type ColCfg = { left: number; right: number; x: [number, number]; xTicks: number[]; events: number[]; eventStyles: { color: string; dash: number[] }[]; panels: PanelCfg[] };

const BLUE = "#0000ff", GREEN = "#008000", RED = "#ff0000", BLACK = "#000000";
const LW = 4.2, LW2 = 3.6;

const LEFT: ColCfg = {
  left: 269, right: 1561, x: L_X_RANGE, xTicks: L_X_TICKS, events: L_EVENT_TIMES,
  eventStyles: [{ color: RED, dash: [] }, { color: BLUE, dash: [] }, { color: BLUE, dash: [22, 10] }],
  panels: [
    { y: { min: -0.3, max: 16.9, ticks: B_TICKS }, series: [{ data: L_B, color: BLACK, width: LW }] },
    { y: { min: -15.9, max: 15.8, ticks: BZ_TICKS }, zeroLine: true, legend: ["By", "Bz"],
      series: [{ data: L_BZ, color: GREEN, width: LW2, label: "Bz" }, { data: L_BY, color: BLUE, width: LW2, label: "By" }] },
    { y: { min: 0, max: 34, ticks: N_TICKS }, series: [{ data: L_N, color: BLACK, width: LW }] },
    { y: { min: 9600, max: 1.503e5, ticks: T_TICKS, log: true, minor: T_MINOR },
      series: [{ data: L_TEXP, color: RED, width: LW2 }, { data: L_T, color: BLACK, width: LW }] },
    { y: { min: 284.4, max: 436.5, ticks: V_TICKS_L },
      notes: [{ text: L_V_NOTES[0], fx: 0.311, fy: 0.769 }, { text: L_V_NOTES[1], fx: 0.311, fy: 0.944 }],
      series: [{ data: L_VFIT, color: BLUE, width: 3, dash: [16, 11] }, { data: L_V, color: BLACK, width: LW }] },
    { y: { min: -113.6, max: 26, ticks: SYMH_TICKS }, y2: { min: -1512, max: 0, ticks: AL_TICKS_L, color: RED },
      series: [{ data: L_AL, color: RED, width: 2.8, axis: "y2" }, { data: L_SYMH, color: BLACK, width: 2.8 }] },
    { y: { min: 8.6, max: 13.23, ticks: RMP_TICKS_L }, series: [{ data: L_RMP, color: BLACK, width: LW }] },
  ],
};

const RIGHT: ColCfg = {
  left: 2007, right: 3320, x: R_X_RANGE, xTicks: R_X_TICKS, events: R_EVENT_TIMES,
  eventStyles: [{ color: RED, dash: [22, 10] }, { color: BLUE, dash: [] }, { color: BLUE, dash: [] }],
  panels: [
    { y: { min: -0.3, max: 16.9, ticks: B_TICKS }, series: [{ data: R_B, color: BLACK, width: LW }] },
    { y: { min: -15.9, max: 15.8, ticks: BZ_TICKS }, zeroLine: true, legend: ["By", "Bz"],
      series: [{ data: R_BZ, color: GREEN, width: LW2, label: "Bz" }, { data: R_BY, color: BLUE, width: LW2, label: "By" }] },
    { y: { min: 0, max: 32, ticks: N_TICKS }, series: [{ data: R_N, color: BLACK, width: LW }] },
    { y: { min: 9600, max: 1.896e5, ticks: T_TICKS, log: true, minor: T_MINOR },
      series: [{ data: R_TEXP, color: RED, width: LW2 }, { data: R_T, color: BLACK, width: LW }] },
    { y: { min: 290.5, max: 419.4, ticks: V_TICKS_R },
      notes: [{ text: R_V_NOTES[0], fx: 0.284, fy: 0.652 }, { text: R_V_NOTES[1], fx: 0.284, fy: 0.89 }],
      series: [{ data: R_VFIT, color: BLUE, width: 3, dash: [16, 11] }, { data: R_V, color: BLACK, width: LW }] },
    { y: { min: -114, max: 20, ticks: SYMH_TICKS }, y2: { min: -945, max: 0, ticks: AL_TICKS_R, color: RED },
      series: [{ data: R_AL, color: RED, width: 2.8, axis: "y2" }, { data: R_SYMH, color: BLACK, width: 2.8 }] },
    { y: { min: 7.59, max: 13.19, ticks: RMP_TICKS_R }, series: [{ data: R_RMP, color: BLACK, width: LW }] },
  ],
};

const fmt = (v: number) => (v < 0 ? "\u2212" + Math.abs(v) : String(v));
const fmtLog = (v: number) => (v === 1e4 ? "10\u2074" : v === 1e5 ? "10\u2075" : "");

function panelTop(i: number) {
  return Math.round(TOP0 + STEP * i);
}

function framePlugin(col: ColCfg, p: PanelCfg) {
  return {
    id: "mplFrame",
    afterDatasetsDraw(chart: any) {
      const { ctx, chartArea: a, scales } = chart;
      ctx.save();
      ctx.beginPath();
      ctx.rect(a.left, a.top, a.right - a.left, a.bottom - a.top);
      ctx.clip();
      if (p.zeroLine) {
        const py = scales.y.getPixelForValue(0);
        ctx.strokeStyle = "#222";
        ctx.lineWidth = 3;
        ctx.setLineDash([20, 12]);
        ctx.beginPath();
        ctx.moveTo(a.left, py);
        ctx.lineTo(a.right, py);
        ctx.stroke();
      }
      col.events.forEach((t, i) => {
        const st = col.eventStyles[i];
        const px = scales.x.getPixelForValue(t);
        ctx.strokeStyle = st.color;
        ctx.lineWidth = 2;
        ctx.setLineDash(st.dash);
        ctx.beginPath();
        ctx.moveTo(px, a.top);
        ctx.lineTo(px, a.bottom);
        ctx.stroke();
      });
      ctx.restore();
    },
    afterDraw(chart: any) {
      const { ctx, chartArea: a, scales } = chart;
      ctx.save();
      ctx.setLineDash([]);
      const seg = (x1: number, y1: number, x2: number, y2: number) => {
        ctx.beginPath();
        ctx.moveTo(x1, y1);
        ctx.lineTo(x2, y2);
        ctx.stroke();
      };
      (p.notes || []).forEach((n) => {
        ctx.fillStyle = "#000";
        ctx.font = `45px ${FONT}`;
        ctx.textAlign = "left";
        ctx.textBaseline = "alphabetic";
        ctx.fillText(n.text, a.left + n.fx * (a.right - a.left), a.top + n.fy * (a.bottom - a.top));
      });
      if (p.legend) {
        const bw = 188, bh = 127;
        const bx = a.right - 22 - bw, by = a.bottom - 22 - bh;
        ctx.fillStyle = "#fff";
        ctx.fillRect(bx, by, bw, bh);
        ctx.strokeStyle = "#000";
        ctx.lineWidth = 2.5;
        ctx.strokeRect(bx, by, bw, bh);
        p.legend.forEach((lab, i) => {
          const ds = chart.data.datasets.find((d: any) => d.label === lab);
          const ly = by + 32 + i * 58;
          ctx.strokeStyle = ds ? ds.borderColor : "#000";
          ctx.lineWidth = 3;
          seg(bx + 30, ly, bx + 92, ly);
          ctx.fillStyle = "#000";
          ctx.font = `25px ${FONT}`;
          ctx.textBaseline = "middle";
          ctx.textAlign = "left";
          ctx.fillText(lab, bx + 138, ly + 5);
        });
      }
      ctx.strokeStyle = "#000";
      ctx.lineWidth = 2;
      const [x0, x1] = col.x;
      for (let h = Math.ceil(x0); h <= Math.floor(x1); h++) {
        const px = scales.x.getPixelForValue(h);
        const len = h % 3 === 0 ? 13 : 6;
        seg(px, a.bottom, px, a.bottom - len);
        seg(px, a.top, px, a.top + len);
      }
      const y = scales.y;
      p.y.ticks.forEach((v) => {
        const py = y.getPixelForValue(v);
        if (py < a.top - 1 || py > a.bottom + 1) return;
        seg(a.left, py, a.left + 13, py);
        if (!p.y2) seg(a.right, py, a.right - 13, py);
      });
      (p.y.minor || []).forEach((v) => {
        if (v < p.y.min || v > p.y.max) return;
        const py = y.getPixelForValue(v);
        seg(a.left, py, a.left + 6, py);
        seg(a.right, py, a.right - 6, py);
      });
      if (p.y2) {
        const y2 = scales.y2;
        p.y2.ticks.forEach((v) => {
          const py = y2.getPixelForValue(v);
          seg(a.right, py, a.right - 13, py);
        });
      }
      ctx.lineWidth = 3;
      ctx.strokeRect(a.left, a.top, a.right - a.left, a.bottom - a.top);
      ctx.restore();
    },
  };
}

function buildConfig(col: ColCfg, idx: number): any {
  const p = col.panels[idx];
  const isLast = idx === col.panels.length - 1;
  const tickFont = { family: FONT, size: TICK_SIZE };
  const yAxis = (ax: AxisCfg, position: string, width: number) => ({
    type: ax.log ? "logarithmic" : "linear",
    position,
    min: ax.min,
    max: ax.max,
    grid: { display: false, drawTicks: false },
    border: { display: false },
    ticks: {
      autoSkip: false,
      padding: 14,
      font: tickFont,
      color: ax.color || "#000",
      callback: (v: number) => (ax.log ? fmtLog(v) : fmt(v)),
    },
    afterBuildTicks: (s: any) => {
      s.ticks = ax.ticks.map((v) => ({ value: v }));
    },
    afterFit: (s: any) => {
      s.width = width;
    },
  });
  const scales: any = {
    x: {
      type: "linear",
      position: "bottom",
      min: col.x[0],
      max: col.x[1],
      grid: { display: false, drawTicks: false },
      border: { display: false },
      ticks: {
        display: isLast,
        autoSkip: false,
        maxRotation: 0,
        padding: 15,
        font: tickFont,
        color: "#000",
        callback: (v: number) => fmt(v),
      },
      afterBuildTicks: (s: any) => {
        s.ticks = col.xTicks.map((v) => ({ value: v }));
      },
      afterFit: (s: any) => {
        s.height = isLast ? PADB_LAST : PADB;
      },
    },
    y: yAxis(p.y, "left", PADL),
  };
  if (p.y2) scales.y2 = yAxis(p.y2, "right", PADR);
  return {
    type: "line",
    data: {
      datasets: p.series.map((s) => ({
        label: s.label || "",
        data: s.data.map(([x, v]) => ({ x, y: v })),
        borderColor: s.color,
        borderWidth: s.width,
        borderDash: s.dash || [],
        pointRadius: 0,
        fill: false,
        tension: 0,
        yAxisID: s.axis || "y",
        borderJoinStyle: "miter",
      })),
    },
    options: {
      animation: false,
      responsive: false,
      devicePixelRatio: 1,
      events: [],
      layout: { padding: { top: PADT, left: 0, bottom: 0, right: p.y2 ? 0 : PADR } },
      plugins: { legend: { display: false }, tooltip: { enabled: false }, title: { display: false } },
      scales,
    },
    plugins: [framePlugin(col, p)],
  };
}

function Panel({ col, idx }: { col: ColCfg; idx: number }) {
  const ref = useRef<HTMLCanvasElement>(null);
  const isLast = idx === col.panels.length - 1;
  const w = col.right - col.left + PADL + PADR;
  const h = PH + PADT + (isLast ? PADB_LAST : PADB);
  useEffect(() => {
    const chart = new Chart(ref.current as HTMLCanvasElement, buildConfig(col, idx));
    return () => chart.destroy();
  }, []);
  return (
    <canvas
      ref={ref}
      width={w}
      height={h}
      style={{ position: "absolute", left: col.left - PADL, top: panelTop(idx) - PADT, width: w, height: h, zIndex: 1 }}
    />
  );
}

const serifI: React.CSSProperties = { fontFamily: '"Liberation Serif"', fontStyle: "italic", fontSize: 50 };
const serifR: React.CSSProperties = { fontFamily: '"Liberation Serif"', fontSize: 47 };
const serifSub: React.CSSProperties = { fontFamily: '"Liberation Serif"', fontSize: 34, position: "relative", top: 10 };

const Vms = () => (
  <>
    <span style={serifI}>V</span>
    <span style={serifR}>ms</span>
    <span style={serifSub}>up</span>
  </>
);

const RmpLabel = () => (
  <>
    <span style={{ fontFamily: '"Liberation Serif"', fontStyle: "italic", fontSize: 44, color: "#333" }}>R</span>
    <span style={{ fontFamily: '"Liberation Serif"', fontStyle: "italic", fontSize: 27, position: "relative", top: 8, color: "#333" }}>MP</span>
    <span> (R</span>
    <span style={{ fontFamily: '"Liberation Serif"', fontStyle: "italic", fontSize: 27, position: "relative", top: 8 }}>E</span>
    <span>)</span>
  </>
);

const Y_LABELS: React.ReactNode[] = ["B (nT)", "Bz (nT)", "N (/cc)", "T (K)", "V (km/s)", "Sym-H", <RmpLabel key="r" />];
const L_LABEL_X = [170, 138, 170, 149, 147, 122, 170];
const R_LABEL_X = [1908, 1880, 1910, 1887, 1885, 1859, 1908];

function YLabel({ x, idx, children, color }: { x: number; idx: number; children: React.ReactNode; color?: string }) {
  return (
    <div
      style={{
        position: "absolute",
        left: x,
        top: panelTop(idx) + PH / 2,
        transform: "translate(-50%, -50%) rotate(-90deg)",
        whiteSpace: "nowrap",
        fontFamily: FONT,
        fontSize: 35,
        lineHeight: "40px",
        color: color || "#000",
        zIndex: 3,
      }}
    >
      {children}
    </div>
  );
}

function Text({ left, top, size, children, center }: { left: number; top: number; size: number; children: React.ReactNode; center?: boolean }) {
  return (
    <div
      style={{
        position: "absolute",
        left,
        top,
        transform: center ? "translateX(-50%)" : undefined,
        whiteSpace: "nowrap",
        fontFamily: FONT,
        fontSize: size,
        lineHeight: `${size}px`,
        color: "#000",
        zIndex: 3,
      }}
    >
      {children}
    </div>
  );
}

export default function App() {
  const gaps = [0, 1, 2, 3, 4, 5];
  return (
    <div style={{ position: "absolute", left: 0, top: 0, width: W, height: H, overflow: "hidden", background: "#e0962f" }}>
      <div style={{ position: "absolute", left: 0, top: 33, width: 69, height: H - 33, background: "#d98c39" }} />
      <div style={{ position: "absolute", left: 40, top: 0, width: W - 40, height: 19, background: "#d6d6d6", borderLeft: "2px solid #000", borderBottom: "3px solid #000" }} />
      <div style={{ position: "absolute", left: 560, top: 0, width: 37, height: 4, background: "#000" }} />
      <div style={{ position: "absolute", left: 69, top: 33, width: 1778 - 69, height: H - 33, background: "#fff" }} />
      <div style={{ position: "absolute", left: 1806, top: 33, width: W - 1806, height: H - 33, background: "#fff" }} />
      {[LEFT, RIGHT].map((c, ci) =>
        gaps.map((i) => (
          <div
            key={`g${ci}${i}`}
            style={{
              position: "absolute",
              left: c.left,
              top: panelTop(i) + PH,
              width: c.right - c.left,
              height: panelTop(i + 1) - panelTop(i) - PH,
              background: "#bdbdbd",
            }}
          />
        ))
      )}
      {LEFT.panels.map((_, i) => <Panel key={`L${i}`} col={LEFT} idx={i} />)}
      {RIGHT.panels.map((_, i) => <Panel key={`R${i}`} col={RIGHT} idx={i} />)}
      <Text left={915} top={44} size={42} center>
        Shock-Driving Slow CME with <span style={serifI}>M</span>
        <span style={serifSub}>cme</span> <span style={serifR}>&lt;</span> <span style={serifI}>M</span>
        <span style={serifSub}>front</span> <span style={serifR}>&lt;</span> <span style={serifR}>1</span> &amp; <Vms /> = 45 km/s
      </Text>
      <Text left={2663} top={44} size={42} center>
        Slow CME without Shock; <Vms /> = 45 km/s
      </Text>
      {Y_LABELS.map((lab, i) => <YLabel key={`yl${i}`} x={L_LABEL_X[i]} idx={i}>{lab}</YLabel>)}
      {Y_LABELS.map((lab, i) => <YLabel key={`yr${i}`} x={R_LABEL_X[i]} idx={i}>{lab}</YLabel>)}
      <YLabel x={1722} idx={5} color={RED}>AL (nT)</YLabel>
      <YLabel x={3456} idx={5} color={RED}>AL (nT)</YLabel>
      <Text left={915} top={2107} size={35} center>Time (h) since April 22, 2001</Text>
      <Text left={2663} top={2107} size={35} center>Time (h) since July 15, 1997</Text>
    </div>
  );
}
